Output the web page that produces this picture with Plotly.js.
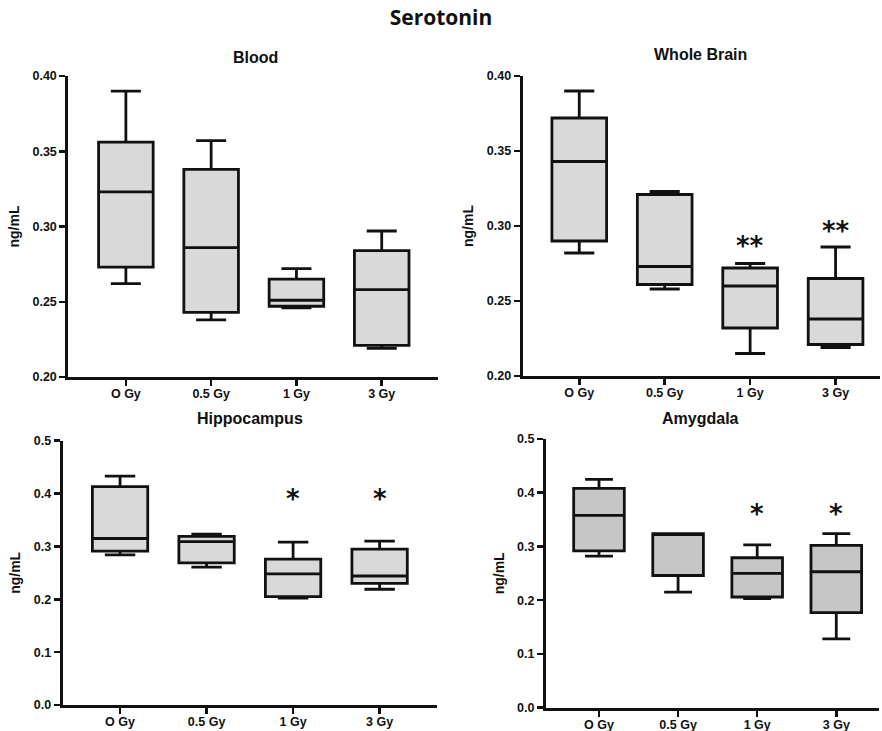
<!DOCTYPE html>
<html>
<head>
<meta charset="utf-8">
<script src="https://cdn.plot.ly/plotly-3.0.1.min.js"></script>
<style>html,body{margin:0;padding:0;background:#fff}#chart{width:882px;height:731px}</style>
</head>
<body>
<div id="chart"></div>
<script>
// ---- data ----
const categories = ["O Gy", "0.5 Gy", "1 Gy", "3 Gy"];

// Blood
const bloodMin    = [0.262, 0.238, 0.246, 0.219];
const bloodQ1     = [0.273, 0.243, 0.247, 0.221];
const bloodMedian = [0.323, 0.286, 0.251, 0.258];
const bloodQ3     = [0.356, 0.338, 0.265, 0.284];
const bloodMax    = [0.390, 0.357, 0.272, 0.297];

// Whole Brain
const brainMin    = [0.282, 0.258, 0.215, 0.219];
const brainQ1     = [0.290, 0.261, 0.232, 0.221];
const brainMedian = [0.343, 0.273, 0.260, 0.238];
const brainQ3     = [0.372, 0.321, 0.272, 0.265];
const brainMax    = [0.390, 0.323, 0.275, 0.286];
const brainStars  = ["", "", "**", "**"];
const brainStarY  = [null, null, 0.290, 0.300];

// Hippocampus
const hippoMin    = [0.284, 0.261, 0.202, 0.219];
const hippoQ1     = [0.291, 0.269, 0.205, 0.230];
const hippoMedian = [0.315, 0.309, 0.248, 0.244];
const hippoQ3     = [0.413, 0.319, 0.276, 0.295];
const hippoMax    = [0.433, 0.323, 0.308, 0.310];
const hippoStars  = ["", "", "*", "*"];
const hippoStarY  = [null, null, 0.400, 0.400];

// Amygdala
const amygMin    = [0.282, 0.215, 0.203, 0.128];
const amygQ1     = [0.292, 0.246, 0.206, 0.177];
const amygMedian = [0.358, 0.322, 0.250, 0.253];
const amygQ3     = [0.408, 0.324, 0.279, 0.302];
const amygMax    = [0.425, 0.324, 0.303, 0.324];
const amygStars  = ["", "", "*", "*"];
const amygStarY  = [null, null, 0.370, 0.370];

// ---- helpers ----
function boxTrace(q1, med, q3, lo, hi, fill, xa, ya) {
  return {
    type: "box", x: categories, q1: q1, median: med, q3: q3,
    lowerfence: lo, upperfence: hi, boxpoints: false,
    fillcolor: fill, line: {color: "#111", width: 2.8},
    width: 0.64, whiskerwidth: 0.55,
    xaxis: xa, yaxis: ya, hoverinfo: "skip", showlegend: false
  };
}
function starAnnots(txt, yv, xa, ya) {
  const out = [];
  categories.forEach((c, i) => {
    if (!txt[i]) return;
    out.push({
      text: txt[i], x: c, y: yv[i], xref: xa, yref: ya, showarrow: false,
      xanchor: "center", yanchor: "middle", yshift: -5,
      font: {family: "DejaVu Sans", size: 26, color: "#111", weight: 700}
    });
  });
  return out;
}

const W = 882, H = 731;
const tickFont = {family: "Liberation Sans, Arial", size: 12.5, color: "#111", weight: 700};
function xAxis(x0, x1, r, anchor) {
  return {
    domain: [x0 / W, x1 / W], range: r, anchor: anchor, type: "category",
    showline: true, linewidth: 3, linecolor: "#111", showgrid: false, zeroline: false,
    ticks: "outside", ticklen: 6, tickwidth: 2.5, tickcolor: "#111",
    ticklabelstandoff: -3,
    tickfont: tickFont, fixedrange: true
  };
}
function yAxis(ytop, ybot, r, dt, fmt, anchor) {
  return {
    domain: [1 - ybot / H, 1 - ytop / H], range: r, anchor: anchor,
    showline: true, linewidth: 3, linecolor: "#111", showgrid: false, zeroline: false,
    ticks: "outside", ticklen: 6, tickwidth: 2.5, tickcolor: "#111",
    dtick: dt, tick0: 0, tickformat: fmt, tickfont: tickFont,
    title: {text: "ng/mL", font: {family: "Liberation Sans, Arial", size: 14, color: "#111", weight: 700}, standoff: 10},
    fixedrange: true
  };
}

const data = [
  boxTrace(bloodQ1, bloodMedian, bloodQ3, bloodMin, bloodMax, "#d9d9d9", "x", "y"),
  boxTrace(brainQ1, brainMedian, brainQ3, brainMin, brainMax, "#d9d9d9", "x2", "y2"),
  boxTrace(hippoQ1, hippoMedian, hippoQ3, hippoMin, hippoMax, "#d9d9d9", "x3", "y3"),
  boxTrace(amygQ1, amygMedian, amygQ3, amygMin, amygMax, "#c6c6c6", "x4", "y4")
];

const titleFont = {family: "Liberation Sans, Arial", size: 16, color: "#111", weight: 700};
const layout = {
  width: W, height: H,
  margin: {l: 0, r: 0, t: 0, b: 0},
  paper_bgcolor: "#fff", plot_bgcolor: "#fff",
  showlegend: false,
  title: {text: "Serotonin", x: 0.5, xanchor: "center", y: 1 - 18 / H, yanchor: "middle",
          font: {family: "Open Sans", size: 21, color: "#111", weight: 700}},
  xaxis:  xAxis(68.3, 438, [-0.675, 3.66], "y"),
  yaxis:  yAxis(76, 377, [0.20, 0.40], 0.05, ".2f", "x"),
  xaxis2: xAxis(522.7, 880, [-0.662, 3.52], "y2"),
  yaxis2: yAxis(76, 376, [0.20, 0.40], 0.05, ".2f", "x2"),
  xaxis3: xAxis(62.7, 436.7, [-0.663, 3.66], "y3"),
  yaxis3: yAxis(440.7, 705, [0, 0.5], 0.1, ".1f", "x3"),
  xaxis4: xAxis(546, 879, [-0.67, 3.54], "y4"),
  yaxis4: yAxis(439, 707.7, [0, 0.5], 0.1, ".1f", "x4"),
  annotations: [
    {text: "Blood", x: 255 / W, y: 1 - 57 / H, xref: "paper", yref: "paper", showarrow: false, font: titleFont, xanchor: "center", yanchor: "middle"},
    {text: "Whole Brain", x: 700 / W, y: 1 - 55 / H, xref: "paper", yref: "paper", showarrow: false, font: titleFont, xanchor: "center", yanchor: "middle"},
    {text: "Hippocampus", x: 250 / W, y: 1 - 418 / H, xref: "paper", yref: "paper", showarrow: false, font: titleFont, xanchor: "center", yanchor: "middle"},
    {text: "Amygdala", x: 700 / W, y: 1 - 418 / H, xref: "paper", yref: "paper", showarrow: false, font: titleFont, xanchor: "center", yanchor: "middle"}
  ].concat(
    starAnnots(brainStars, brainStarY, "x2", "y2"),
    starAnnots(hippoStars, hippoStarY, "x3", "y3"),
    starAnnots(amygStars, amygStarY, "x4", "y4")
  )
};

Plotly.newPlot("chart", data, layout, {staticPlot: true, displayModeBar: false});
</script>
</body>
</html>
